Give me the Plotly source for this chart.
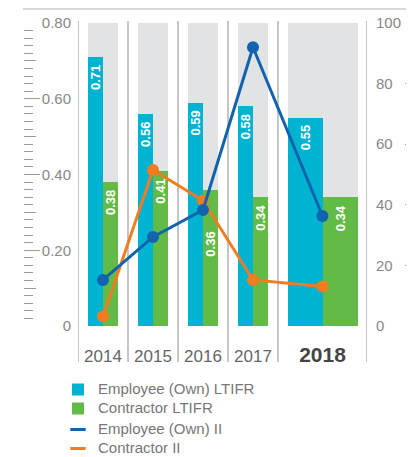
import plotly.graph_objects as go

# ---------------- data ----------------
years = ["2014", "2015", "2016", "2017", "2018"]
employee_ltifr = [0.71, 0.56, 0.59, 0.58, 0.55]
contractor_ltifr = [0.38, 0.41, 0.36, 0.34, 0.34]
employee_ii = [15.2, 29.4, 38.3, 92.0, 36.3]
contractor_ii = [3.1, 51.5, 41.4, 15.2, 13.0]
left_tickvals = [0, 0.2, 0.4, 0.6, 0.8]
left_ticktext = ["0", "0.20", "0.40", "0.60", "0.80"]
right_tickvals = [0, 20, 40, 60, 80, 100]
right_ticktext = ["0", "20", "40", "60", "80", "100"]

# ---------------- layout helpers ----------------
# the page body has an 8px margin, so the figure is placed at (8, 8)
OFF = 8
PAGE_W, PAGE_H = 414, 457
W, H = PAGE_W - OFF, PAGE_H - OFF


def fx(px):  # page pixel x -> paper fraction
    return (px - OFF) / W


def fy(py):  # page pixel y -> paper fraction
    return 1 - (py - OFF) / H


cell_w = [50, 50, 50, 50, 89]      # width of each year column (axis units)
bar_w = [30, 30, 30, 30, 70]       # width of bar pair in each column
bounds = [0]
for w in cell_w:
    bounds.append(bounds[-1] + w)
centers = [(bounds[i] + bounds[i + 1]) / 2 for i in range(len(cell_w))]
LMAX, RMAX = 0.8, 100

C_EMP = "#00B3D1"
C_CON = "#62BB46"
C_BG = "#E2E3E5"
C_EMP_II = "#1063AF"
C_CON_II = "#F47B20"
FONT = "Liberation Sans, Arial, sans-serif"

fig = go.Figure()

fig.add_trace(go.Bar(x=centers, y=[LMAX] * len(years), width=bar_w,
                     offset=[-w / 2 for w in bar_w], marker_color=C_BG,
                     marker_line_width=0, showlegend=False, hoverinfo="skip"))
fig.add_trace(go.Bar(x=centers, y=employee_ltifr, width=[w / 2 for w in bar_w],
                     offset=[-w / 2 for w in bar_w], marker_color=C_EMP,
                     marker_line_width=0,
                     name="<span style='font-size:15px'>Employee (Own) LTIFR</span>",
                     legendgroup="bars"))
fig.add_trace(go.Bar(x=centers, y=contractor_ltifr, width=[w / 2 for w in bar_w],
                     offset=[0] * len(years), marker_color=C_CON,
                     marker_line_width=0,
                     name="<span style='font-size:15px'>Contractor LTIFR</span>",
                     legendgroup="bars"))

fig.add_trace(go.Scatter(x=centers, y=contractor_ii, yaxis="y2", mode="lines+markers",
                         line=dict(color=C_CON_II, width=3),
                         marker=dict(color=C_CON_II, size=12), showlegend=False))
fig.add_trace(go.Scatter(x=centers, y=employee_ii, yaxis="y2", mode="lines+markers",
                         line=dict(color=C_EMP_II, width=3),
                         marker=dict(color=C_EMP_II, size=12), showlegend=False))

# legend-only entries for the lines (short dash swatch)
for name, col in [("Employee (Own) II", C_EMP_II), ("Contractor II", C_CON_II)]:
    fig.add_trace(go.Scatter(x=[None], y=[None], mode="markers",
                             name="<span style='font-size:15px'>%s</span>" % name,
                             legendgroup="lines",
                             marker=dict(symbol="line-ew", size=11, color=col,
                                         line=dict(width=3, color=col))))

# bar value labels
label_shift = {("con", 2): -40}
annotations = []
for i in range(len(years)):
    for key, vals, sign in [("emp", employee_ltifr, -1), ("con", contractor_ltifr, 1)]:
        annotations.append(dict(
            x=centers[i] + sign * bar_w[i] / 4, y=vals[i], xref="x", yref="y",
            text="<b>%.2f</b>" % vals[i], textangle=-90, showarrow=False,
            xanchor="center", yanchor="top", yshift=label_shift.get((key, i), -6),
            font=dict(family=FONT, size=13, color="white")))

# structure lines
shapes = [dict(type="line", xref="paper", yref="paper", x0=fx(23), x1=1,
               y0=fy(9), y1=fy(9), line=dict(color="#CCCCCC", width=1.5))]
for j, b in enumerate(bounds):
    outer = j in (0, len(bounds) - 1)
    shapes.append(dict(type="line", xref="x", yref="paper", x0=b, x1=b,
                       y0=fy(362), y1=fy(21), layer="below",
                       line=dict(color="#C4C4C4" if outer else "#A8A8A8",
                                 width=2 if outer else 1.3)))

ticktext_x = [y if y != "2018" else
              "<b><span style='font-size:21px;color:#444444'>2018</span></b>"
              for y in years]

ruler_col = "#9A9A9A"
fig.update_layout(
    width=W, height=H, margin=dict(l=0, r=0, t=0, b=0, autoexpand=False),
    paper_bgcolor="white", plot_bgcolor="white", template="none",
    barmode="overlay", bargap=0,
    font=dict(family=FONT, color="#777777"),
    xaxis=dict(domain=[fx(78), fx(367)], range=[0, bounds[-1]], tickvals=centers,
               ticktext=ticktext_x, showgrid=False, zeroline=False, showline=False,
               ticks="", tickfont=dict(size=17, color="#666666"), ticklabelstandoff=18,
               fixedrange=True),
    yaxis=dict(domain=[fy(326), fy(23)], range=[0, LMAX], tickvals=left_tickvals,
               ticktext=left_ticktext, showgrid=False, zeroline=False, showline=False,
               ticks="", ticklabelstandoff=6, tickfont=dict(size=15, color="#888888")),
    yaxis2=dict(overlaying="y", side="right", anchor="x", range=[0, RMAX],
                tickvals=right_tickvals, ticktext=right_ticktext, showgrid=False,
                zeroline=False, showline=False, ticks="", ticklabelstandoff=8,
                tickfont=dict(size=15, color="#888888")),
    yaxis3=dict(overlaying="y", anchor="free", position=fx(23), side="left",
                range=[0, LMAX], tickvals=left_tickvals, ticks="inside", ticklen=16,
                tickcolor=ruler_col, tickwidth=1, showticklabels=False,
                showgrid=False, zeroline=False, showline=False,
                minor=dict(dtick=0.02, ticks="inside", ticklen=9,
                           tickcolor=ruler_col, tickwidth=1, showgrid=False)),
    yaxis4=dict(overlaying="y", anchor="free", position=fx(23), side="left",
                range=[0, LMAX], tickvals=[0.1, 0.3, 0.5, 0.7], ticks="inside",
                ticklen=12, tickcolor=ruler_col, tickwidth=1, showticklabels=False,
                showgrid=False, zeroline=False, showline=False),
    yaxis5=dict(overlaying="y", anchor="free", position=1, side="right",
                range=[0, RMAX], tickvals=right_tickvals, ticks="inside", ticklen=9,
                tickcolor=ruler_col, tickwidth=1, showticklabels=False,
                showgrid=False, zeroline=False, showline=False,
                minor=dict(dtick=2, ticks="inside", ticklen=5,
                           tickcolor=ruler_col, tickwidth=1, showgrid=False)),
    yaxis6=dict(overlaying="y", anchor="free", position=1, side="right",
                range=[0, RMAX], tickvals=[10, 30, 50, 70, 90], ticks="inside",
                ticklen=7, tickcolor=ruler_col, tickwidth=1, showticklabels=False,
                showgrid=False, zeroline=False, showline=False),
    legend=dict(x=fx(58), xanchor="left", y=fy(375), yanchor="top",
                orientation="v", traceorder="grouped", tracegroupgap=2,
                bgcolor="rgba(0,0,0,0)", font=dict(size=11.5, color="#777777"),
                itemclick=False),
    annotations=annotations, shapes=shapes, showlegend=True,
)

# attach invisible traces so the ruler axes are drawn
for ax in ["y3", "y4", "y5", "y6"]:
    fig.add_trace(go.Scatter(x=[None], y=[None], yaxis=ax, showlegend=False,
                             hoverinfo="skip"))

fig.write_html("out.html")
